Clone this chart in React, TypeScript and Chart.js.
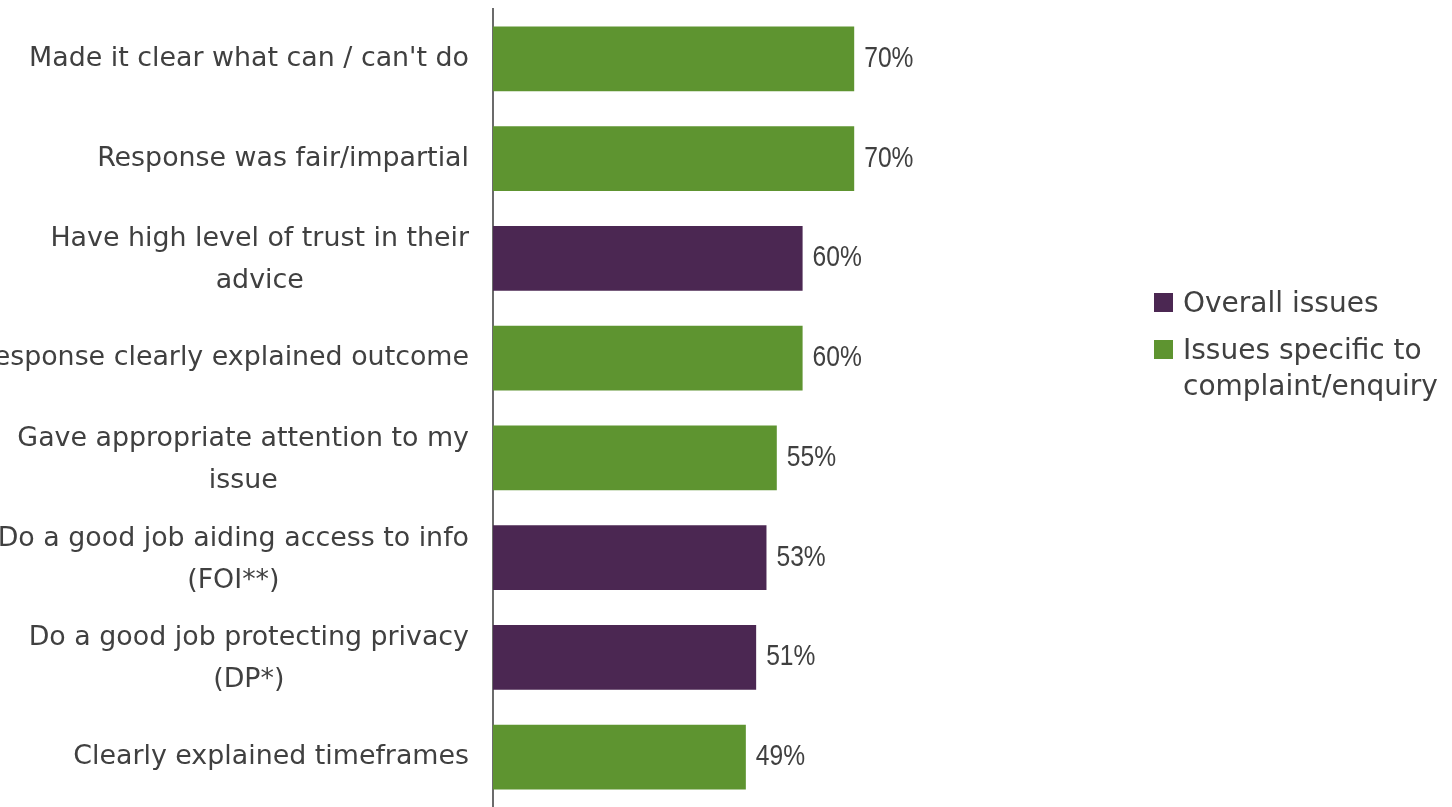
import React, { useEffect, useRef } from "react";
import { Chart, registerables } from "chart.js";

Chart.register(...registerables);

const categories: string[][] = [
  ["Made it clear what can / can't do"],
  ["Response was fair/impartial"],
  ["Have high level of trust in their", "advice"],
  ["Response clearly explained outcome"],
  ["Gave appropriate attention to my", "issue"],
  ["Do a good job aiding access to info", "(FOI**)"],
  ["Do a good job protecting privacy", "(DP*)"],
  ["Clearly explained timeframes"],
];

const values: number[] = [70, 70, 60, 60, 55, 53, 51, 49];
const groups: string[] = ["specific", "specific", "overall", "specific", "specific", "overall", "overall", "specific"];

const seriesKeys: string[] = ["overall", "specific"];
const seriesLabels: string[][] = [["Overall issues"], ["Issues specific to", "complaint/enquiry"]];
const seriesColors: string[] = ["#4B2752", "#5E9430"];

const TEXT = "#404040";
const LABEL_FONT = "26.85px 'DejaVu Sans', sans-serif";
const LEGEND_FONT = "28px 'DejaVu Sans', sans-serif";
const VALUE_FONT = "30px 'Liberation Sans', sans-serif";

const labelsPlugin = {
  id: "customLabels",
  afterDraw(chart: any) {
    const { ctx, chartArea } = chart;
    const yScale = chart.scales.y;
    ctx.save();
    // category labels
    ctx.font = LABEL_FONT;
    ctx.fillStyle = TEXT;
    ctx.textAlign = "center";
    ctx.textBaseline = "alphabetic";
    const rightEdge = chartArea.left - 24;
    categories.forEach((lines, i) => {
      const y = yScale.getPixelForValue(i);
      const maxW = Math.max(...lines.map((l) => ctx.measureText(l).width));
      const cx = rightEdge - maxW / 2;
      const n = lines.length;
      const lh = 42;
      const off = 7 + (n > 1 ? 2 : 0);
      lines.forEach((l, j) => {
        ctx.fillText(l, cx, y + off + (j - (n - 1) / 2) * lh);
      });
    });
    // value labels (condensed)
    ctx.font = VALUE_FONT;
    ctx.textAlign = "left";
    chart.data.datasets.forEach((ds: any, di: number) => {
      const meta = chart.getDatasetMeta(di);
      meta.data.forEach((el: any, i: number) => {
        const v = ds.data[i];
        if (v === null || v === undefined) return;
        ctx.save();
        ctx.translate(el.x + 10, el.y + 8);
        ctx.scale(0.82, 1);
        ctx.fillText(v + "%", 0, 0);
        ctx.restore();
      });
    });
    // legend
    const lx = 1154;
    const tx = 1183;
    const baselines = [312, 359];
    ctx.font = LEGEND_FONT;
    chart.data.datasets.forEach((ds: any, di: number) => {
      const b = baselines[di];
      ctx.fillStyle = ds.backgroundColor;
      ctx.fillRect(lx, b - 19, 19, 19);
      ctx.fillStyle = TEXT;
      const lines: string[] = seriesLabels[di];
      lines.forEach((l, j) => ctx.fillText(l, tx, b + j * 36));
    });
    ctx.restore();
  },
};

export default function App() {
  const ref = useRef<HTMLCanvasElement>(null);
  useEffect(() => {
    if (!ref.current) return;
    const datasets = seriesKeys.map((k, si) => ({
      label: seriesLabels[si].join(" "),
      data: values.map((v, i) => (groups[i] === k ? v : null)),
      backgroundColor: seriesColors[si],
      borderWidth: 0,
      categoryPercentage: 1,
      barPercentage: 0.65,
    }));
    const chart = new Chart(ref.current, {
      type: "bar",
      data: { labels: categories.map((c) => c.join(" ")), datasets },
      options: {
        indexAxis: "y",
        responsive: false,
        animation: false,
        layout: { padding: { top: 9, right: 443, bottom: 0, left: 0 } },
        plugins: { legend: { display: false }, tooltip: { enabled: false } },
        scales: {
          x: { display: false, min: 0, max: 100, stacked: true },
          y: {
            stacked: true,
            grid: { display: false },
            ticks: { display: false },
            border: { display: true, color: "#6b6b6b", width: 2 },
            afterFit: (scale: any) => {
              scale.width = 493;
            },
          },
        },
      },
      plugins: [labelsPlugin],
    });
    return () => chart.destroy();
  }, []);
  return (
    <canvas
      ref={ref}
      width={1452}
      height={807}
      style={{ position: "absolute", left: 0, top: 0, display: "block" }}
    />
  );
}
